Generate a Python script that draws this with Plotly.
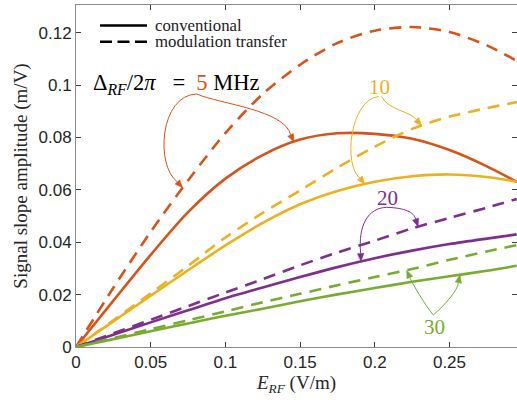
import numpy as np
import plotly.graph_objects as go

# ---------------- data ----------------
E_RF = [0, 0.025, 0.05, 0.075, 0.1, 0.125, 0.15, 0.175, 0.2, 0.225, 0.25, 0.275, 0.295]

conv_5 = [0, 0.0177, 0.0352, 0.0515, 0.0643, 0.0733, 0.0792, 0.0816, 0.0814, 0.0795, 0.0752, 0.0690, 0.0631]
mt_5 = [0, 0.0226, 0.0440, 0.0636, 0.0817, 0.0966, 0.1078, 0.1161, 0.1208, 0.1222, 0.1203, 0.1152, 0.1093]

conv_10 = [0, 0.0098, 0.0196, 0.0293, 0.0388, 0.0474, 0.0545, 0.0596, 0.0631, 0.0652, 0.0659, 0.0649, 0.0631]
mt_10 = [0, 0.0102, 0.0205, 0.0310, 0.0418, 0.0512, 0.0598, 0.0685, 0.0765, 0.0833, 0.0880, 0.0912, 0.0935]

conv_20 = [0, 0.0047, 0.0094, 0.0140, 0.0186, 0.0227, 0.0267, 0.0305, 0.0339, 0.0368, 0.0393, 0.0414, 0.0430]
mt_20 = [0, 0.0052, 0.0104, 0.0156, 0.0208, 0.0259, 0.0312, 0.0361, 0.0406, 0.0453, 0.0493, 0.0532, 0.0565]

conv_30 = [0, 0.0030, 0.0060, 0.0090, 0.0119, 0.0146, 0.0175, 0.0201, 0.0225, 0.0249, 0.0270, 0.0291, 0.0310]
mt_30 = [0, 0.0034, 0.0068, 0.0102, 0.0136, 0.0171, 0.0203, 0.0236, 0.0267, 0.0298, 0.0333, 0.0365, 0.0389]

detuning_labels = ["5", "10", "20", "30"]
x_tick_vals = [0, 0.05, 0.1, 0.15, 0.2, 0.25]
x_tick_text = ["0", "0.05", "0.1", "0.15", "0.2", "0.25"]
y_tick_vals = [0, 0.02, 0.04, 0.06, 0.08, 0.1, 0.12]
y_tick_text = ["0", "0.02", "0.04", "0.06", "0.08", "0.1", "0.12"]
legend_labels = ["conventional", "modulation transfer"]

# ---------------- styling ----------------
COLORS = {"5": "#D95319", "10": "#EDB120", "20": "#7E2F8E", "30": "#77AC30"}
SERIES = {"5": (conv_5, mt_5), "10": (conv_10, mt_10), "20": (conv_20, mt_20), "30": (conv_30, mt_30)}
W, H = 517, 400
ML, MR, MT, MB = 76, 0, 5, 53
X_RANGE = [0, 0.2952]
Y_RANGE = [0, 0.1306]
LW = 2.6
DASH = "12px,8px"
SERIF = "Liberation Serif, DejaVu Serif, serif"
SANS = "Liberation Sans, Arial, sans-serif"
PW, PH = W - ML - MR, H - MT - MB


def dx(px):
    return X_RANGE[0] + (px - ML) / PW * (X_RANGE[1] - X_RANGE[0])


def dy(py):
    return Y_RANGE[0] + (H - MB - py) / PH * (Y_RANGE[1] - Y_RANGE[0])


def fx(x):
    return ML + (x - X_RANGE[0]) / (X_RANGE[1] - X_RANGE[0]) * PW


def fy(y):
    return H - MB - (y - Y_RANGE[0]) / (Y_RANGE[1] - Y_RANGE[0]) * PH


def px_paper(px):
    return (px - ML) / PW


def py_paper(py):
    return (H - MB - py) / PH


fig = go.Figure()
for key in detuning_labels:
    conv, mt = SERIES[key]
    c = COLORS[key]
    fig.add_trace(go.Scatter(x=E_RF, y=mt, mode="lines", name=f"{key} MHz modulation transfer",
                             line=dict(color=c, width=LW, dash=DASH, shape="spline", smoothing=0.8),
                             showlegend=False, hoverinfo="skip"))
    fig.add_trace(go.Scatter(x=E_RF, y=conv, mode="lines", name=f"{key} MHz conventional",
                             line=dict(color=c, width=LW, shape="spline", smoothing=0.8),
                             showlegend=False, hoverinfo="skip"))


def bez(p0, p1, p2, p3, t):
    return tuple((1 - t) ** 3 * a + 3 * (1 - t) ** 2 * t * b + 3 * (1 - t) * t ** 2 * c + t ** 3 * d
                 for a, b, c, d in zip(p0, p1, p2, p3))


def curved_arrow(start_px, c1_px, c2_px, x_tip, series, color):
    tip_data = (x_tip, float(np.interp(x_tip, E_RF, series)))
    tip = (fx(tip_data[0]), fy(tip_data[1]))
    p0, p1, p2 = start_px, c1_px, c2_px
    # arrowhead geometry (pixel space)
    tail = bez(p0, p1, p2, tip, 0.9)
    vx, vy = tip[0] - tail[0], tip[1] - tail[1]
    n = (vx ** 2 + vy ** 2) ** 0.5
    ux, uy = vx / n, vy / n
    L, Wd = 8.0, 3.2
    base = (tip[0] - ux * L, tip[1] - uy * L)
    left = (base[0] - uy * Wd, base[1] + ux * Wd)
    right = (base[0] + uy * Wd, base[1] - ux * Wd)
    # curve stops at the arrowhead base
    curve = (f"M {dx(p0[0])},{dy(p0[1])} C {dx(p1[0])},{dy(p1[1])} {dx(p2[0])},{dy(p2[1])} "
             f"{dx(base[0])},{dy(base[1])}")
    fig.add_shape(type="path", path=curve, xref="x", yref="y",
                  line=dict(color=color, width=1), fillcolor="rgba(0,0,0,0)")
    head = (f"M {tip_data[0]},{tip_data[1]} L {dx(left[0])},{dy(left[1])} "
            f"L {dx(right[0])},{dy(right[1])} Z")
    fig.add_shape(type="path", path=head, xref="x", yref="y",
                  line=dict(color=color, width=0.5), fillcolor=color)


# 5 MHz
curved_arrow((196.7, 94), (160, 95), (155, 165), 0.0714, mt_5, COLORS["5"])
curved_arrow((196.7, 94), (220, 104), (285, 110), 0.146, conv_5, COLORS["5"])
# 10 MHz
curved_arrow((378.5, 96.5), (350, 100), (343, 165), 0.1934, conv_10, COLORS["10"])
curved_arrow((381.5, 96.5), (388, 110), (412, 112), 0.2314, mt_10, COLORS["10"])
# 20 MHz
curved_arrow((386.7, 207.3), (368, 208), (358, 225), 0.1908, conv_20, COLORS["20"])
curved_arrow((386.7, 207.3), (405, 208), (414, 212), 0.2290, mt_20, COLORS["20"])
# 30 MHz
curved_arrow((433.3, 315), (425, 305), (412, 283), 0.2213, mt_30, COLORS["30"])
curved_arrow((433.3, 315), (445, 305), (458, 290), 0.2570, conv_30, COLORS["30"])

# detuning labels
fig.add_annotation(x=dx(91), y=dy(84), xref="x", yref="y", xanchor="left", yanchor="middle",
                   showarrow=False,
                   text=("Δ<sub><i>RF</i></sub>/2<i>π</i>&nbsp;&nbsp;&nbsp;=&nbsp;&nbsp;"
                         "<span style='color:%s'>5</span>&nbsp;MHz" % COLORS["5"]),
                   font=dict(family=SERIF, size=22.5, color="#000000"))
label_pos = {"10": (379, 86.5), "20": (387, 198), "30": (434.5, 327)}
for key, (px, py) in label_pos.items():
    fig.add_annotation(x=dx(px), y=dy(py), xref="x", yref="y", xanchor="center", yanchor="middle",
                       showarrow=False, text=key, font=dict(family=SERIF, size=21, color=COLORS[key]))

# legend (drawn manually)
for i, (lab, dash) in enumerate(zip(legend_labels, ["solid", "12px,5.5px"])):
    yy = py_paper(25.5 + i * 16.2)
    fig.add_shape(type="line", xref="paper", yref="paper", x0=px_paper(100), x1=px_paper(147),
                  y0=yy, y1=yy, line=dict(color="black", width=2.6, dash=dash))
    fig.add_annotation(x=px_paper(153), y=yy, xref="paper", yref="paper", xanchor="left",
                       yanchor="middle", showarrow=False, text=lab,
                       font=dict(family=SERIF, size=16.8, color="#222222"))

axis_common = dict(showline=True, linecolor="#8c8c8c", linewidth=1, mirror="ticks",
                   ticks="inside", ticklen=5, tickcolor="#404040", tickwidth=1,
                   showgrid=False, zeroline=False, automargin=False,
                   tickfont=dict(family=SANS, size=17, color="#262626"))

fig.update_layout(
    width=W, height=H,
    margin=dict(l=ML, r=MR, t=MT, b=MB, autoexpand=False),
    plot_bgcolor="white", paper_bgcolor="white",
    showlegend=False,
    xaxis=dict(range=X_RANGE, tickvals=x_tick_vals, ticktext=x_tick_text,
               title=dict(text="<i>E</i><sub><i>RF</i></sub> (V/m)", standoff=1,
                          font=dict(family=SERIF, size=19, color="#262626")),
               **axis_common),
    yaxis=dict(range=Y_RANGE, tickvals=y_tick_vals, ticktext=y_tick_text,
               title=dict(text="Signal slope amplitude (m/V)", standoff=5,
                          font=dict(family=SERIF, size=19, color="#262626")),
               **axis_common),
)

fig.write_html("out.html", config={"displayModeBar": False},
               post_script="document.body.style.margin='0px';document.body.style.overflow='hidden';")
